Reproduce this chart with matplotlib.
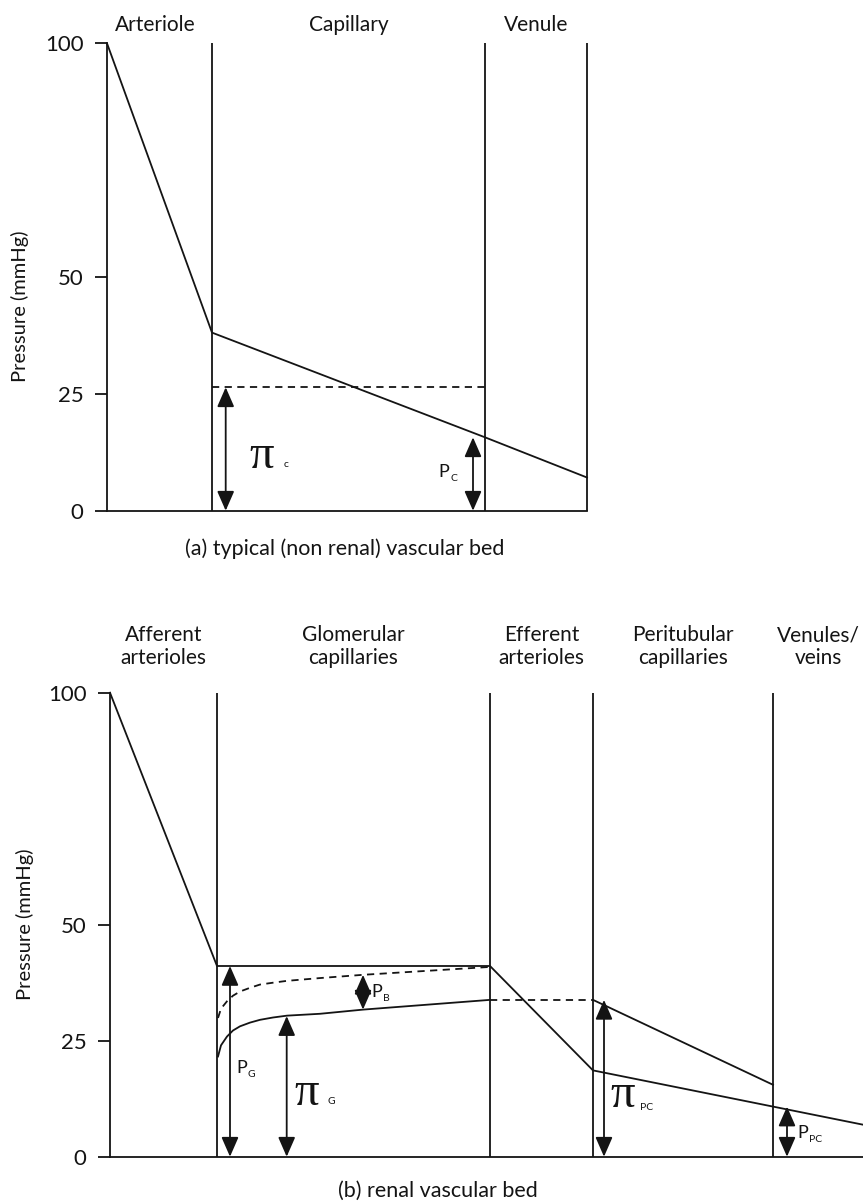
import matplotlib
matplotlib.use('Agg')
import matplotlib.pyplot as plt

plt.rcParams['font.family'] = ['Lato', 'DejaVu Sans']

# ---- panel (a): typical (non renal) vascular bed ----
# x is distance along the vessel (arbitrary units), y is pressure in mmHg
a_bounds = [0, 105, 378, 480]
a_names = ['Arteriole', 'Capillary', 'Venule']
a_x = [0, 105, 378, 480]
a_p = [100, 38.1, 15.7, 7.1]
a_pi_c = 26.4          # capillary oncotic pressure (dashed)
a_pc_at_venule = 15.7  # capillary hydrostatic pressure at venous end

# ---- panel (b): renal vascular bed ----
b_bounds = [0, 107, 380, 483, 663, 753]
b_names = ['Afferent\narterioles', 'Glomerular\ncapillaries', 'Efferent\narterioles',
           'Peritubular\ncapillaries', 'Venules/\nveins']
b_x = [0, 107, 380, 483, 663, 753]
b_p = [100, 41.1, 41.1, 18.6, 10.8, 6.9]
# glomerular oncotic pressure (solid curve) and Bowman + oncotic (dashed curve)
glom_x = [108, 111, 117, 123, 130, 140, 150, 163, 177, 210, 253, 380]
glom_pi = [21.6, 24.0, 25.9, 27.2, 28.1, 28.9, 29.5, 30.0, 30.4, 30.8, 31.7, 33.8]
glom_dash = [29.9, 31.9, 33.5, 34.7, 35.6, 36.4, 37.1, 37.5, 37.9, 38.5, 39.2, 40.9]
# peritubular oncotic pressure (upper line)
peri_x = [483, 663]
peri_pi = [33.8, 15.5]

W, H = 863, 1203
fig = plt.figure(figsize=(W / 100, H / 100), dpi=100)
fig.patch.set_facecolor('white')

LW = 1.3
INK = '#141414'
PI_FONT = ['Liberation Serif', 'DejaVu Serif']


def px_axes(left, right, top, bottom):
    return fig.add_axes([left / W, 1 - bottom / H, (right - left) / W, (bottom - top) / H])


def setup(ax, xmax):
    ax.set_xlim(0, xmax)
    ax.set_ylim(0, 100)
    for s in ['top', 'right']:
        ax.spines[s].set_visible(False)
    for s in ['left', 'bottom']:
        ax.spines[s].set_linewidth(LW)
        ax.spines[s].set_color(INK)
    ax.set_xticks([])
    ax.set_yticks([0, 25, 50, 100])
    ax.tick_params(axis='y', length=9, width=LW, pad=8, labelsize=16, colors=INK)
    ax.patch.set_alpha(0)


def arrow(ax, x, y0, y1):
    ax.annotate('', xy=(x, y1), xytext=(x, y0), annotation_clip=False,
                arrowprops=dict(arrowstyle='<|-|>,head_length=0.8,head_width=0.35',
                                mutation_scale=15, color=INK, lw=LW,
                                shrinkA=0, shrinkB=0))


def sub_label(ax, x, y, main, sub, size=13, subsize=7.5, dx=6, dy=-1.5):
    ax.text(x, y, main, fontsize=size, color=INK, ha='center', va='center', clip_on=False)
    ax.text(x + dx, y + dy, sub, fontsize=subsize, color=INK, ha='left', va='center', clip_on=False)


def pi_label(ax, x, y, sub, sx, sy):
    ax.text(x, y, '\u03c0', fontsize=35, color=INK, ha='center', va='center',
            family=PI_FONT)
    ax.text(sx, sy, sub, fontsize=7.5, color=INK, ha='left', va='center')


# ---------------- panel (a) ----------------
ax = px_axes(107, 587, 43.3, 510.7)
setup(ax, 480)
ax.vlines(a_bounds[1:], 0, 100, color=INK, lw=LW, clip_on=False)
ax.plot(a_x, a_p, color=INK, lw=LW, clip_on=False)
ax.plot([a_bounds[1], a_bounds[2]], [a_pi_c, a_pi_c], color=INK, lw=LW,
        ls=(0, (4, 3)))
arrow(ax, 118.7, 0, a_pi_c)
arrow(ax, 366, 0, a_pc_at_venule)
pi_label(ax, 155, 11.8, 'c', 177, 9.8)
sub_label(ax, 337, 8.3, 'P', 'C')

for i, name in enumerate(a_names):
    ax.text((a_bounds[i] + a_bounds[i + 1]) / 2 - (4 if i == 0 else 0), 104, name,
            fontsize=15, color=INK, ha='center', va='center', clip_on=False)
ax.text(238, -8.2, '(a) typical (non renal) vascular bed', fontsize=15.5, color=INK,
        ha='center', va='center', clip_on=False)
ax.text(-87, 43.8, 'Pressure (mmHg)', fontsize=14.5, color=INK, rotation=90,
        ha='center', va='center', clip_on=False)

# ---------------- panel (b) ----------------
ax = px_axes(110, 863, 692.7, 1156.7)
setup(ax, 753)
ax.vlines(b_bounds[1:5], 0, 100, color=INK, lw=LW, clip_on=False)
ax.plot(b_x, b_p, color=INK, lw=LW, clip_on=False)
ax.plot(glom_x, glom_pi, color=INK, lw=LW)
ax.plot(glom_x, glom_dash, color=INK, lw=LW, ls=(0, (4, 3)))
ax.plot([b_bounds[2], b_bounds[3]], [glom_pi[-1], glom_pi[-1]], color=INK, lw=LW,
        ls=(0, (4, 3)))
ax.plot(peri_x, peri_pi, color=INK, lw=LW)

arrow(ax, 120, 0, b_p[1])
arrow(ax, 176.7, 0, 30.3)
arrow(ax, 253, 31.7, 39.2)
arrow(ax, 494, 0, peri_pi[0])
arrow(ax, 677, 0, b_p[4])

sub_label(ax, 132, 19.2, 'P', 'G')
pi_label(ax, 197, 13.8, 'G', 218, 12.0)
sub_label(ax, 267, 35.5, 'P', 'B')
pi_label(ax, 513, 13.3, 'PC', 530, 10.6)
sub_label(ax, 693, 5.2, 'P', 'PC')

for i, name in enumerate(b_names):
    ax.text((b_bounds[i] + b_bounds[i + 1]) / 2, 110, name, fontsize=15, color=INK,
            ha='center', va='center', linespacing=1.15, clip_on=False)
ax.text(328, -7.3, '(b) renal vascular bed', fontsize=15.5, color=INK,
        ha='center', va='center', clip_on=False)
ax.text(-85, 50, 'Pressure (mmHg)', fontsize=14.5, color=INK, rotation=90,
        ha='center', va='center', clip_on=False)

fig.savefig('out.png', dpi=100, facecolor='white')
